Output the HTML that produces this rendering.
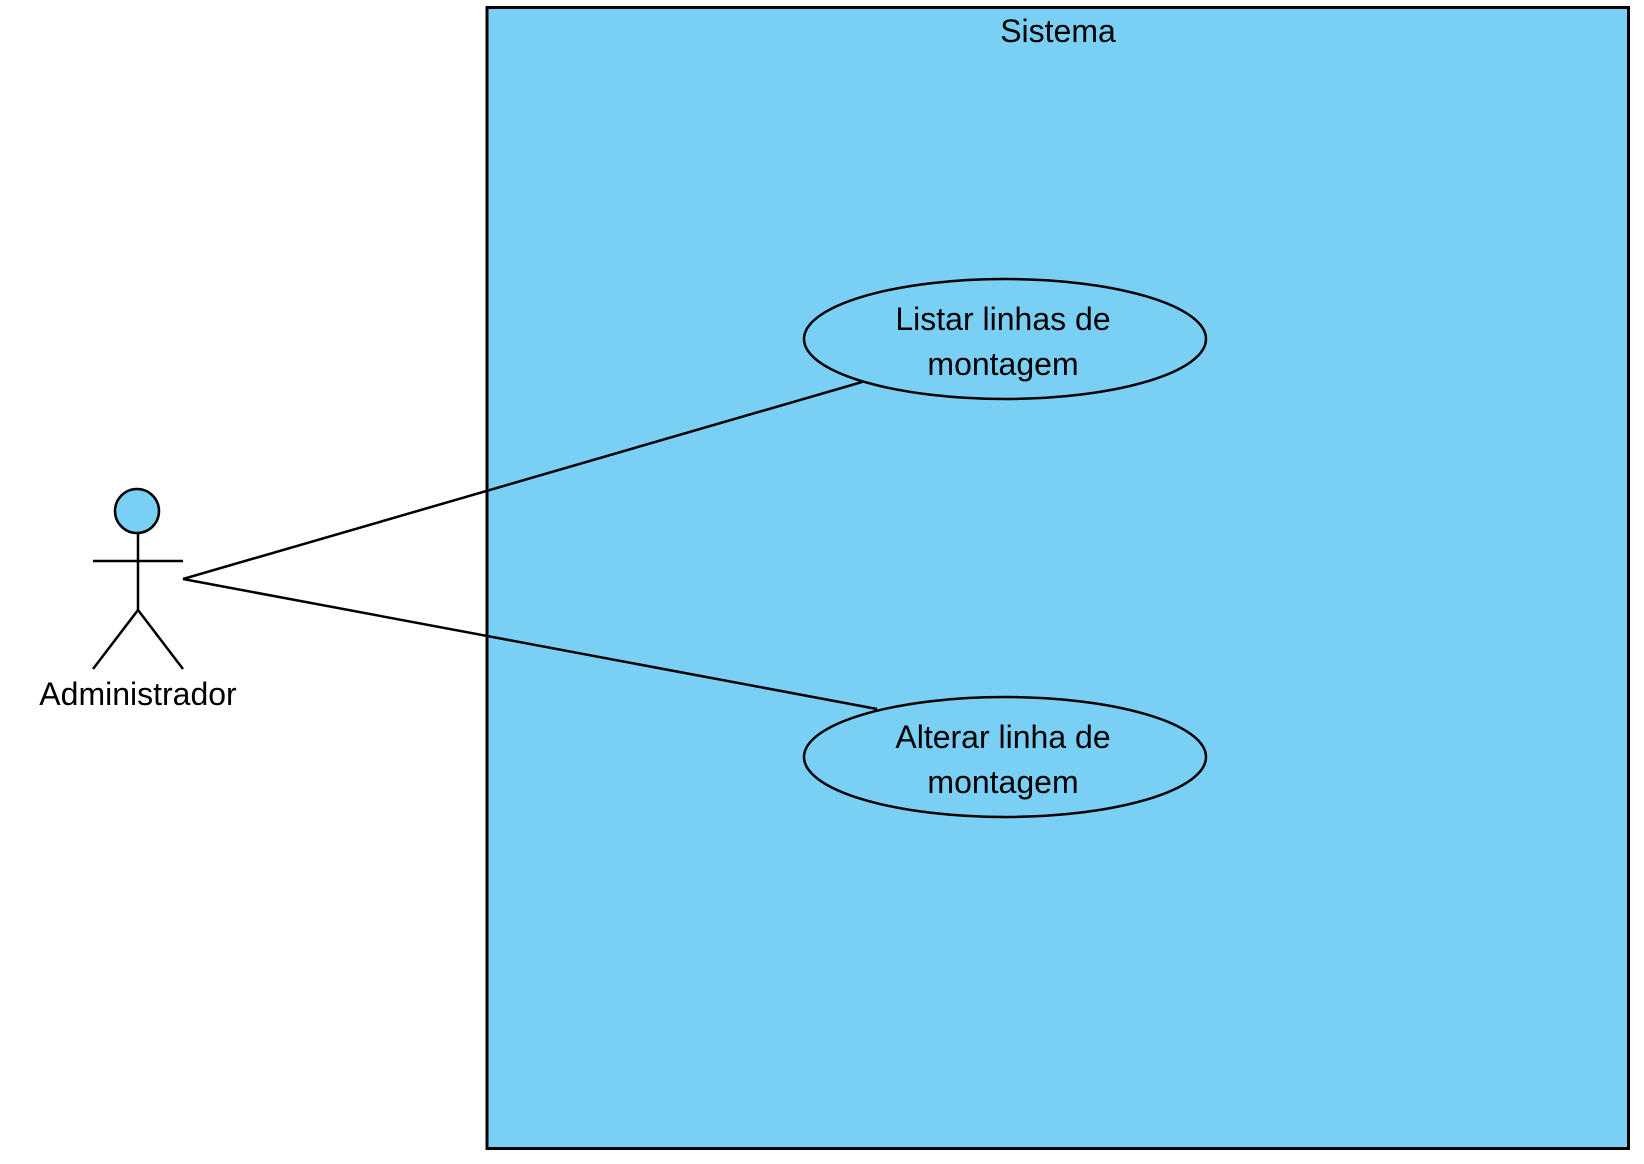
<!DOCTYPE html>
<html><head><style>html,body{margin:0;padding:0;background:#fff;}svg{display:block}</style></head>
<body>
<svg width="1644" height="1164" xmlns="http://www.w3.org/2000/svg" font-family="Liberation Sans, Arial, sans-serif" font-size="32">
<rect x="487" y="7.5" width="1141.5" height="1141" fill="#7acff4" stroke="#000" stroke-width="3"/>
<text x="1058" y="42" text-anchor="middle">Sistema</text>
<ellipse cx="1005" cy="339" rx="201" ry="60" fill="#7acff4" stroke="#000" stroke-width="2.5"/>
<text x="1003" y="330" text-anchor="middle">Listar linhas de</text>
<text x="1003" y="375" text-anchor="middle">montagem</text>
<ellipse cx="1005" cy="757" rx="201" ry="60" fill="#7acff4" stroke="#000" stroke-width="2.5"/>
<text x="1003" y="748" text-anchor="middle">Alterar linha de</text>
<text x="1003" y="793" text-anchor="middle">montagem</text>
<g stroke="#000" stroke-width="2.5" fill="none">
<line x1="183" y1="579" x2="862" y2="382"/>
<line x1="183" y1="579" x2="877" y2="709"/>
<circle cx="137" cy="511" r="22" fill="#7acff4"/>
<line x1="138" y1="533" x2="138" y2="610"/>
<line x1="93" y1="561" x2="183" y2="561"/>
<line x1="138" y1="610" x2="93" y2="669"/>
<line x1="138" y1="610" x2="183" y2="669"/>
</g>
<text x="138" y="705" text-anchor="middle">Administrador</text>
</svg>
</body></html>
